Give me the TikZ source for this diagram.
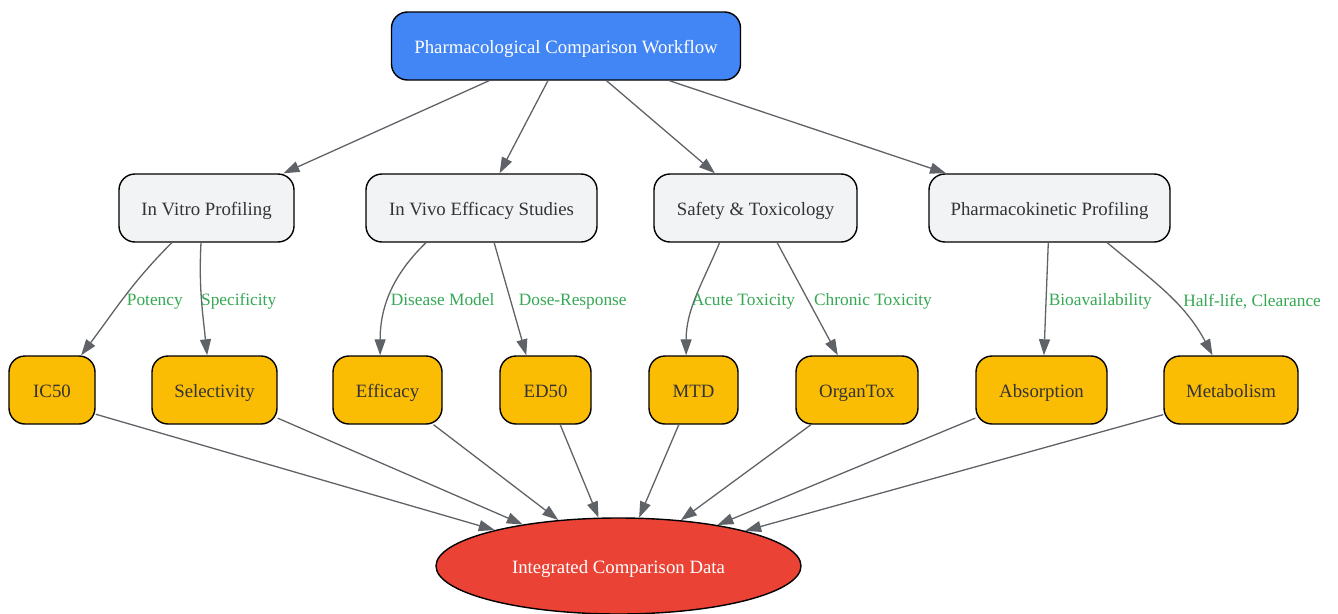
\documentclass[tikz,border=0pt]{standalone}
\usepackage{fontspec}
\setmainfont{Liberation Serif}
\usetikzlibrary{arrows.meta, shapes.geometric}
\definecolor{gblue}{HTML}{4285F4}
\definecolor{gred}{HTML}{EA4335}
\definecolor{gyellow}{HTML}{FBBC04}
\definecolor{ggreen}{HTML}{34A853}
\definecolor{paper}{HTML}{F1F3F4}
\definecolor{ink}{HTML}{333333}
\definecolor{edgegray}{HTML}{5F6368}

\begin{document}
\begin{tikzpicture}[x=1pt, y=1pt,
	box/.style={draw=black, line width=1.4pt, rounded corners=16pt, minimum height=68pt, inner sep=0pt, text height=18pt, text depth=3pt, font=\fontsize{18.8}{22}\selectfont, text=ink},
	phase/.style={box, fill=paper},
	metric/.style={box, fill=gyellow},
	link/.style={draw=edgegray, line width=1.3pt, -{Triangle[length=16pt, width=11pt]}},
	lbl/.style={font=\fontsize{17.33}{20}\selectfont, text=ggreen, anchor=west, inner sep=2pt, text height=12pt, text depth=0pt}]
	\useasboundingbox (0,0) rectangle (1338,-613);
	
	%top part
	\node[box, fill=gblue, text=white, minimum width=349pt] (flow) at (566,-46) {Pharmacological Comparison Workflow};
	
	%study phases
	\node[phase, minimum width=175pt] (vitro)  at (206.5,-208)  {In Vitro Profiling};
	\node[phase, minimum width=231pt] (vivo)   at (481.5,-208)  {In Vivo Efficacy Studies};
	\node[phase, minimum width=203pt] (safety) at (755.5,-208)  {Safety \& Toxicology};
	\node[phase, minimum width=241pt] (pk)     at (1049.5,-208) {Pharmacokinetic Profiling};
	
	%measured quantities
	\node[metric, minimum width=86pt]  (ic50)  at (52,-390)     {IC50};
	\node[metric, minimum width=125pt] (sel)   at (214.5,-390)  {Selectivity};
	\node[metric, minimum width=109pt] (eff)   at (387.5,-390)  {Efficacy};
	\node[metric, minimum width=91pt]  (ed50)  at (545.5,-390)  {ED50};
	\node[metric, minimum width=89pt]  (mtd)   at (693.5,-390)  {MTD};
	\node[metric, minimum width=122pt] (organ) at (857,-390)    {OrganTox};
	\node[metric, minimum width=131pt] (abs)   at (1041.5,-390) {Absorption};
	\node[metric, minimum width=134pt] (meta)  at (1231,-390)   {Metabolism};
	
	%result
	\node[ellipse, draw=black, line width=1.4pt, fill=gred, text=white, minimum width=365pt, minimum height=96pt, inner sep=0pt, text height=18pt, text depth=3pt, font=\fontsize{18.8}{22}\selectfont] (data) at (618.5,-566) {Integrated Comparison Data};
	
	%workflow to phases
	\foreach \p in {vitro, vivo, safety, pk}
		\draw[link] (flow) -- (\p);
	
	%phases to quantities
	\draw[link] (vitro.-135) to[out=-135, in=53] node[lbl, pos=.5, yshift=-2pt] {Potency} (ic50.50);
	\draw[link] (vitro.-99) to[out=-93, in=96] node[lbl, pos=.5, xshift=-3pt] {Specificity} (sel.102);
	\draw[link] (vivo.-148) to[out=-136, in=90] node[lbl, pos=.5, xshift=-2pt, yshift=-6pt] {Disease Model} (eff.102);
	\draw[link] (vivo.-70) -- node[lbl, pos=.5, xshift=6pt] {Dose-Response} (ed50.119);
	\draw[link] (safety.-136) to[out=-113, in=90] node[lbl, pos=.5, xshift=-7pt, yshift=-2pt] {Acute Toxicity} (mtd.102);
	\draw[link] (safety.-58) -- node[lbl, pos=.5, xshift=4pt] {Chronic Toxicity} (organ.119);
	\draw[link] (pk.-92) -- node[lbl, pos=.5] {Bioavailability} (abs.86);
	\draw[link] (pk.-31) to[out=-40, in=118] node[lbl, pos=.5, xshift=14pt, yshift=-7pt] {Half-life, Clearance} (meta.118);
	
	%quantities to result
	\draw[link] (ic50.-29) -- (data);
	\draw[link] (sel.-24) -- (data);
	\draw[link] (eff.-37) -- (data);
	\draw[link] (ed50.-67) -- (data);
	\draw[link] (mtd.-113) -- (data);
	\draw[link] (organ.-143) -- (data);
	\draw[link] (abs.-157) -- (data);
	\draw[link] (meta.-160) -- (data);
\end{tikzpicture}
\end{document}
